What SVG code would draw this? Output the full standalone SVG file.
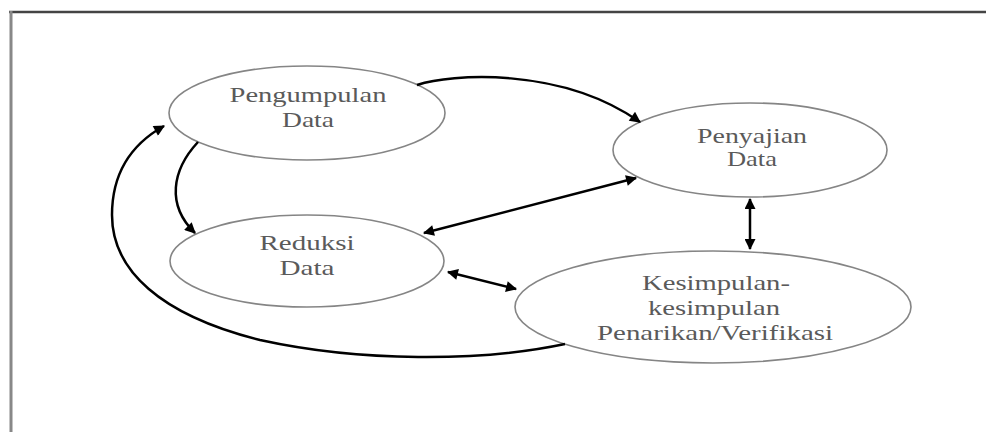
<svg xmlns="http://www.w3.org/2000/svg" width="986" height="432" viewBox="0 0 986 432">
<style>
.node ellipse{fill:none;stroke:#858585;stroke-width:1.6}
.node text{font-family:"Liberation Serif","Times New Roman",serif;font-size:21px;fill:#5a5a5a;text-anchor:middle}
.conn path,.conn line{fill:none;stroke:#000;stroke-width:2.5}
</style>
<defs>
<marker id="ah" viewBox="0 0 10 10" refX="9" refY="5" markerWidth="5" markerHeight="4.4" orient="auto-start-reverse" markerUnits="strokeWidth">
<path d="M0,0 L10,5 L0,10 z" fill="#000"/>
</marker>
</defs>
<rect width="986" height="432" fill="#fff"/>
<g id="frame">
<line x1="9" y1="12" x2="986" y2="12" stroke="#444" stroke-width="2.5"/>
<line x1="11" y1="11" x2="11" y2="432" stroke="#888" stroke-width="3"/>
</g>
<g id="pengumpulan" class="node">
<ellipse cx="307" cy="113" rx="138" ry="47"/>
<text x="308" y="102" textLength="157" lengthAdjust="spacingAndGlyphs">Pengumpulan</text>
<text x="308" y="127" textLength="52" lengthAdjust="spacingAndGlyphs">Data</text>
</g>
<g id="penyajian" class="node">
<ellipse cx="750" cy="150" rx="137" ry="47"/>
<text x="752" y="143" textLength="110" lengthAdjust="spacingAndGlyphs">Penyajian</text>
<text x="752" y="166" textLength="50" lengthAdjust="spacingAndGlyphs">Data</text>
</g>
<g id="reduksi" class="node">
<ellipse cx="307" cy="261" rx="137" ry="46"/>
<text x="307" y="250" textLength="95" lengthAdjust="spacingAndGlyphs">Reduksi</text>
<text x="307" y="275" textLength="55" lengthAdjust="spacingAndGlyphs">Data</text>
</g>
<g id="kesimpulan" class="node">
<ellipse cx="713" cy="307" rx="198" ry="56"/>
<text x="716" y="290" textLength="148" lengthAdjust="spacingAndGlyphs">Kesimpulan-</text>
<text x="714" y="315" textLength="132" lengthAdjust="spacingAndGlyphs">kesimpulan</text>
<text x="715" y="340" textLength="236" lengthAdjust="spacingAndGlyphs">Penarikan/Verifikasi</text>
</g>
<g id="connectors" class="conn">
<path d="M417,85 C450,74 560,66 640,122" marker-end="url(#ah)"/>
<path d="M198,142 C172,170 166,205 195,233" marker-end="url(#ah)"/>
<path d="M565,344 C480,362 360,362 260,340 C160,315 112,270 112,215 C112,175 130,145 164,126" marker-end="url(#ah)"/>
<line x1="424" y1="233" x2="636" y2="178" marker-start="url(#ah)" marker-end="url(#ah)"/>
<line x1="750" y1="199" x2="750" y2="249" marker-start="url(#ah)" marker-end="url(#ah)"/>
<line x1="448" y1="272" x2="516" y2="289" marker-start="url(#ah)" marker-end="url(#ah)"/>
</g>
</svg>
